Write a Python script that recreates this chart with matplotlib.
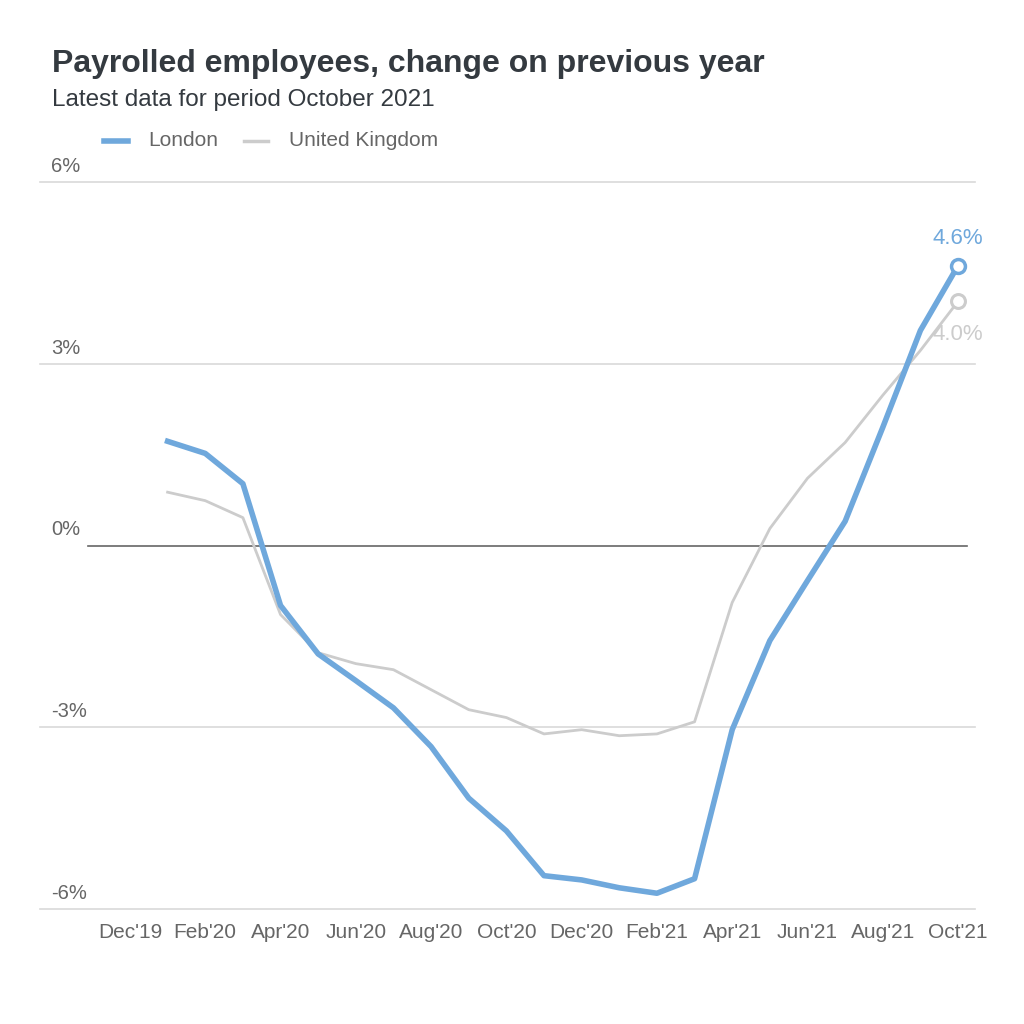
import matplotlib.pyplot as plt
from matplotlib.lines import Line2D

# Monthly data, Jan'20 .. Oct'21 (index 1..22, Dec'19 = 0)
months = list(range(1, 23))
london = [1.72, 1.52, 1.02, -0.99, -1.79, -2.23, -2.68, -3.32, -4.17, -4.71, -5.45,
          -5.52, -5.65, -5.74, -5.50, -3.04, -1.57, -0.58, 0.40, 1.95, 3.55, 4.62]
uk = [0.88, 0.74, 0.46, -1.14, -1.77, -1.95, -2.05, -2.38, -2.71, -2.84, -3.11,
      -3.04, -3.14, -3.11, -2.91, -0.94, 0.28, 1.11, 1.70, 2.48, 3.22, 4.03]
tick_pos = [0, 2, 4, 6, 8, 10, 12, 14, 16, 18, 20, 22]
tick_labels = ["Dec'19", "Feb'20", "Apr'20", "Jun'20", "Aug'20", "Oct'20",
               "Dec'20", "Feb'21", "Apr'21", "Jun'21", "Aug'21", "Oct'21"]
y_ticks = [6, 3, 0, -3, -6]

blue = '#6fa8dc'
grey = '#cccccc'
plt.rcParams['font.family'] = ['Liberation Sans', 'DejaVu Sans']

fig = plt.figure(figsize=(10.24, 10.24), dpi=100)
ax = fig.add_axes([40 / 1024, 1 - 909 / 1024, 935 / 1024, 727 / 1024])
x_left, x_right = -2.39, 22.45
ax.set_xlim(x_left, x_right)
ax.set_ylim(-6, 6)

# grid lines and y labels
for v in y_ticks:
    if v == 0:
        ax.plot([-1.12, 22.25], [0, 0], color='#666666', lw=1.2, clip_on=False, zorder=1)
    else:
        ax.axhline(v, color='#d9d9d9', lw=1.2, clip_on=False, zorder=0)
    ax.text(x_left + 0.3, v + 0.1, f'{v}%', ha='left', va='bottom',
            fontsize=14.5, color='#666666')

ax.plot(months, uk, color=grey, lw=2, solid_joinstyle='round', zorder=2)
ax.plot(months, london, color=blue, lw=4, solid_joinstyle='round', zorder=3)
ax.plot(months[-1], uk[-1], 'o', ms=10, mfc='white', mec=grey, mew=2.2, zorder=4)
ax.plot(months[-1], london[-1], 'o', ms=10, mfc='white', mec=blue, mew=2.5, zorder=5)
ax.text(months[-1], london[-1] + 0.28, '4.6%', ha='center', va='bottom', fontsize=16, color=blue)
ax.text(months[-1], uk[-1] - 0.38, '4.0%', ha='center', va='top', fontsize=16, color=grey)

ax.set_xticks(tick_pos)
ax.set_xticklabels(tick_labels, fontsize=15, color='#666666')
ax.tick_params(axis='x', length=0, pad=10)
ax.set_yticks([])
for s in ax.spines.values():
    s.set_visible(False)

# title, subtitle, legend
fig.text(52 / 1024, 1 - 64 / 1024, 'Payrolled employees, change on previous year',
         fontsize=23, fontweight='bold', color='#343a40', va='center')
fig.text(52 / 1024, 1 - 100 / 1024, 'Latest data for period October 2021',
         fontsize=17.5, color='#343a40', va='center')
fig.add_artist(Line2D([104 / 1024, 128 / 1024], [1 - 141 / 1024] * 2, color=blue, lw=4))
fig.text(148 / 1024, 1 - 141 / 1024, 'London', fontsize=15, color='#666666', va='center')
fig.add_artist(Line2D([244 / 1024, 268 / 1024], [1 - 141 / 1024] * 2, color=grey, lw=2.5))
fig.text(289 / 1024, 1 - 141 / 1024, 'United Kingdom', fontsize=15, color='#666666', va='center')

fig.savefig('out.png', dpi=100)
